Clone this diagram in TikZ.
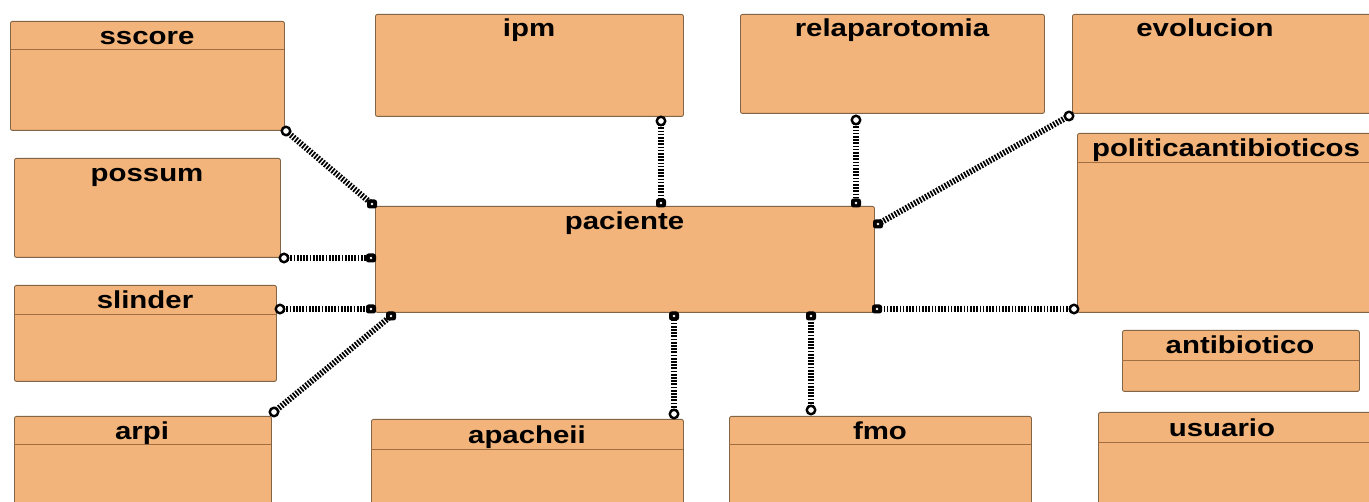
\documentclass[tikz,border=0pt]{standalone}
\usepackage{fontspec}
\setmainfont{Liberation Sans}
\definecolor{boxfill}{RGB}{242,180,122}
\definecolor{boxline}{RGB}{130,100,70}
\definecolor{hdrline}{RGB}{160,110,65}
\begin{document}
\begin{tikzpicture}[x=1pt,y=-1pt,
  ent/.style={draw=boxline,line width=0.9pt,fill=boxfill,rounded corners=2pt,anchor=north west,inner sep=0pt},
  ttl/.style={anchor=base,inner sep=0pt,xscale=1.2,font=\fontsize{24.5}{28}\selectfont\bfseries},
  hdr/.style={draw=hdrline,line width=0.9pt},
  link/.style={draw=black,line width=6pt,dash pattern=on 1.7pt off 1.5pt},
  ring/.style={circle,draw=black,fill=white,line width=2.4pt,minimum size=8.5pt,inner sep=0pt},
  plug/.style={rectangle,rounded corners=2.5pt,fill=black,minimum width=10pt,minimum height=9pt,inner sep=0pt,
    path picture={\fill[white] (path picture bounding box.center) circle (1.3pt);}}]
\useasboundingbox (0,0) rectangle (1369,502);
\clip (0,0) rectangle (1369,502);
\fill[white] (0,0) rectangle (1369,502);
% boxes
\node[ent,minimum width=274pt,minimum height=109pt] (sscore) at (10,21) {};
\draw[hdr] (10,49) -- (284,49);
\node[ttl] (sscore-t) at (147,45) {sscore};
\node[ent,minimum width=308pt,minimum height=102pt] (ipm) at (375,14) {};
\node[ttl] (ipm-t) at (529,37) {ipm};
\node[ent,minimum width=304pt,minimum height=99pt] (relap) at (740,14) {};
\node[ttl] (relap-t) at (892,37) {relaparotomia};
\node[ent,minimum width=310pt,minimum height=99pt] (evol) at (1072,14) {};
\node[ttl] (evol-t) at (1205,37) {evolucion};
\node[ent,minimum width=300pt,minimum height=179pt] (polit) at (1077,133) {};
\draw[hdr] (1077,162) -- (1375,162);
\node[ttl] (polit-t) at (1226,157) {politicaantibioticos};
\node[ent,minimum width=266pt,minimum height=99pt] (possum) at (14,158) {};
\node[ttl] (possum-t) at (147,182) {possum};
\node[ent,minimum width=499pt,minimum height=106pt] (pac) at (375,206) {};
\node[ttl] (pac-t) at (624.5,230) {paciente};
\node[ent,minimum width=262pt,minimum height=96pt] (slinder) at (14,285) {};
\draw[hdr] (14,314) -- (276,314);
\node[ttl] (slinder-t) at (145,309) {slinder};
\node[ent,minimum width=237pt,minimum height=61pt] (antib) at (1122,330) {};
\draw[hdr] (1122,360) -- (1359,360);
\node[ttl] (antib-t) at (1240,354) {antibiotico};
\node[ent,minimum width=257pt,minimum height=100pt] (arpi) at (14,416) {};
\draw[hdr] (14,444) -- (271,444);
\node[ttl] (arpi-t) at (142,440) {arpi};
\node[ent,minimum width=312pt,minimum height=100pt] (apache) at (371,419) {};
\draw[hdr] (371,449) -- (683,449);
\node[ttl] (apache-t) at (527,444) {apacheii};
\node[ent,minimum width=302pt,minimum height=100pt] (fmo) at (729,416) {};
\draw[hdr] (729,444) -- (1031,444);
\node[ttl] (fmo-t) at (880,440) {fmo};
\node[ent,minimum width=290pt,minimum height=100pt] (usu) at (1098,412) {};
\draw[hdr] (1098,442) -- (1375,442);
\node[ttl] (usu-t) at (1222,437) {usuario};
% connector ends
\coordinate (a1) at (286,131); \coordinate (b1) at (372,204);
\coordinate (a2) at (661,121); \coordinate (b2) at (661,203);
\coordinate (a3) at (856,120); \coordinate (b3) at (856,203);
\coordinate (a4) at (1069,116); \coordinate (b4) at (878,224);
\coordinate (a5) at (284,258); \coordinate (b5) at (371,258);
\coordinate (a6) at (280,309); \coordinate (b6) at (371,309);
\coordinate (a7) at (274,412); \coordinate (b7) at (391,316);
\coordinate (a8) at (674,414); \coordinate (b8) at (674,316);
\coordinate (a9) at (811,410); \coordinate (b9) at (811,316);
\coordinate (a10) at (1074,309); \coordinate (b10) at (877,309);
\foreach \i in {1,...,10}{\draw[link] (a\i) -- (b\i);}
\foreach \i in {1,...,10}{\node[ring] at (a\i) {}; \node[plug] at (b\i) {};}
\end{tikzpicture}
\end{document}
